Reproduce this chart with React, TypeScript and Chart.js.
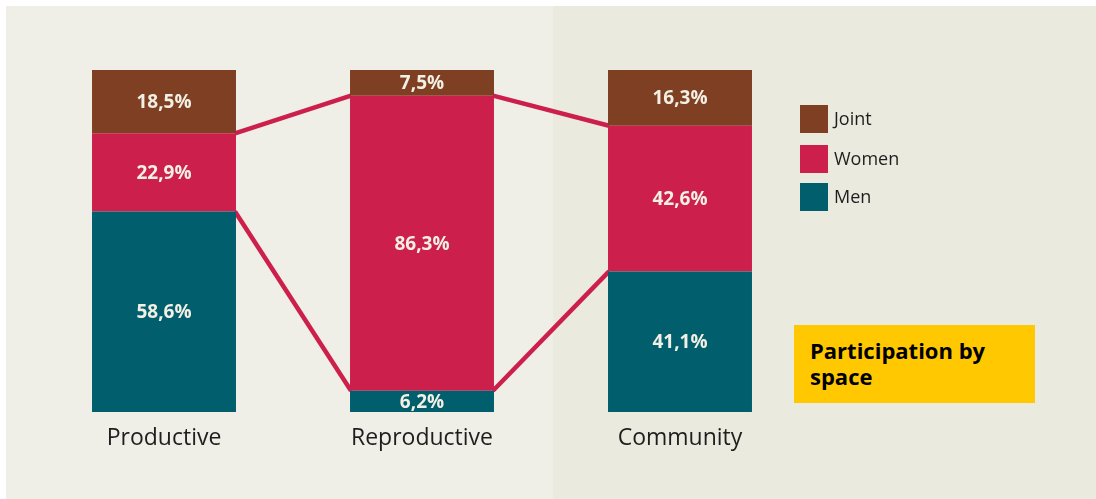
import React, { useEffect, useRef } from "react";
import { Chart, registerables } from "chart.js";

Chart.register(...registerables);

const categories = ["Productive", "Reproductive", "Community"];
const menValues = [58.6, 6.2, 41.1];
const womenValues = [22.9, 86.3, 42.6];
const jointValues = [18.5, 7.5, 16.3];
const legendLabels = ["Joint", "Women", "Men"];
const titleLines = ["Participation by", "space"];

const COLOR_MEN = "#005e6d";
const COLOR_WOMEN = "#cc1f4b";
const COLOR_JOINT = "#7e3f22";
const LABEL_COLOR = "#f2efe4";

const fmt = (v: number) => v.toFixed(1).replace(".", ",") + "%";

const connectorPlugin = {
  id: "connectors",
  beforeDatasetsDraw(chart: any) {
    const meta = chart.getDatasetMeta(1);
    const els = meta.data;
    const ctx = chart.ctx;
    ctx.save();
    ctx.strokeStyle = COLOR_WOMEN;
    ctx.lineWidth = 4.5;
    ctx.lineCap = "butt";
    for (let i = 0; i < els.length - 1; i++) {
      const a = els[i];
      const b = els[i + 1];
      const ax = a.x + a.width / 2;
      const bx = b.x - b.width / 2;
      ctx.beginPath();
      ctx.moveTo(ax - 1, a.y);
      ctx.lineTo(bx + 1, b.y);
      ctx.stroke();
      ctx.beginPath();
      ctx.moveTo(ax - 1, a.base);
      ctx.lineTo(bx + 1, b.base);
      ctx.stroke();
    }
    ctx.restore();
  },
};

const valueLabelPlugin = {
  id: "valueLabels",
  afterDatasetsDraw(chart: any) {
    const ctx = chart.ctx;
    ctx.save();
    ctx.fillStyle = LABEL_COLOR;
    ctx.font = "bold 19px 'Open Sans', sans-serif";
    ctx.textAlign = "center";
    ctx.textBaseline = "middle";
    chart.data.datasets.forEach((ds: any, di: number) => {
      const meta = chart.getDatasetMeta(di);
      meta.data.forEach((el: any, i: number) => {
        const v = ds.data[i] as number;
        ctx.fillText(fmt(v), el.x, (el.y + el.base) / 2 + 1);
      });
    });
    ctx.restore();
  },
};

export default function App() {
  const ref = useRef<HTMLCanvasElement | null>(null);

  useEffect(() => {
    if (!ref.current) return;
    const chart = new Chart(ref.current, {
      type: "bar",
      data: {
        labels: categories,
        datasets: [
          { label: "Men", data: menValues, backgroundColor: COLOR_MEN, borderWidth: 0 },
          { label: "Women", data: womenValues, backgroundColor: COLOR_WOMEN, borderWidth: 0 },
          { label: "Joint", data: jointValues, backgroundColor: COLOR_JOINT, borderWidth: 0 },
        ],
      },
      options: {
        responsive: false,
        maintainAspectRatio: false,
        animation: false,
        datasets: {
          bar: { barPercentage: 1, categoryPercentage: 0.558 },
        },
        layout: { padding: { left: 35, right: 287, top: 70, bottom: 33.4 } },
        plugins: { legend: { display: false }, tooltip: { enabled: false } },
        scales: {
          x: {
            stacked: true,
            grid: { display: false, drawTicks: false },
            border: { display: false },
            ticks: {
              padding: 13,
              color: "#1e1e1e",
              font: { family: "'Open Sans', sans-serif", size: 23, weight: 400 as any },
            },
          },
          y: { stacked: true, min: 0, max: 100, display: false },
        },
      },
      plugins: [connectorPlugin, valueLabelPlugin],
    });
    return () => chart.destroy();
  }, []);

  const legendColors = [COLOR_JOINT, COLOR_WOMEN, COLOR_MEN];
  const legendTops = [105, 145, 183];

  return (
    <div style={{ position: "fixed", left: 0, top: 0, width: 1096, height: 499, background: "#ffffff", overflow: "hidden" }}>
      <div style={{ position: "absolute", left: 6, top: 6, width: 547, height: 493, background: "#f0efe7" }} />
      <div style={{ position: "absolute", left: 553, top: 6, width: 543, height: 493, background: "#ebeadf" }} />
      <canvas ref={ref} width={1096} height={499} style={{ position: "absolute", left: 0, top: 0, width: 1096, height: 499, display: "block" }} />
      {legendLabels.map((l, i) => (
        <div key={l} style={{ position: "absolute", left: 800, top: legendTops[i], height: 28, display: "flex", alignItems: "center" }}>
          <div style={{ width: 28, height: 28, background: legendColors[i] }} />
          <div style={{ marginLeft: 6, fontFamily: "'Open Sans', sans-serif", fontSize: 18, color: "#1e1e1e", lineHeight: "28px", marginTop: -2 }}>{l}</div>
        </div>
      ))}
      <div style={{ position: "absolute", left: 794, top: 325, width: 241, height: 78, background: "#ffc800", boxSizing: "border-box", padding: "12px 0 0 16px" }}>
        {titleLines.map((t) => (
          <div key={t} style={{ fontFamily: "'Open Sans', sans-serif", fontWeight: 700, fontSize: 22, lineHeight: "26px", color: "#000" }}>{t}</div>
        ))}
      </div>
    </div>
  );
}
